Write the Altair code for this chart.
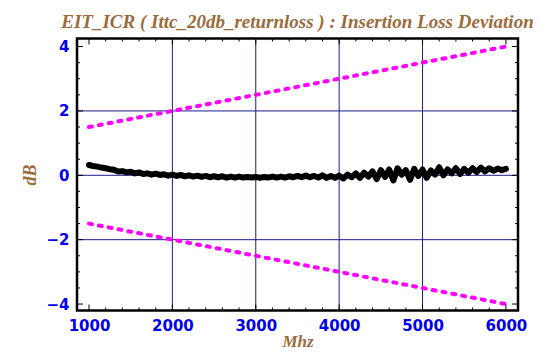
import altair as alt
import pandas as pd

# ---- data ----
freq = list(range(1000, 6001, 50))
deviation = [
    0.32, 0.29, 0.27, 0.24, 0.22, 0.19, 0.17, 0.12, 0.13, 0.09,
    0.11, 0.06, 0.09, 0.04, 0.06, 0.02, 0.05, 0.01, 0.03, -0.01,
    0.02, -0.02, 0.01, -0.03, 0.00, -0.04, -0.01, -0.05, -0.02, -0.06,
    -0.03, -0.06, -0.03, -0.07, -0.04, -0.07, -0.04, -0.07, -0.05, -0.07,
    -0.05, -0.08, -0.05, -0.07, -0.04, -0.07, -0.04, -0.07, -0.03, -0.06,
    -0.02, -0.06, -0.01, -0.06, -0.02, -0.07, 0.00, -0.08, -0.02, -0.08,
    -0.01, -0.10, 0.02, -0.06, 0.06, -0.08, 0.08, -0.04, 0.12, -0.12,
    0.16, -0.05, 0.18, -0.16, 0.22, 0.02, 0.16, -0.14, 0.20, -0.02,
    0.18, -0.08, 0.15, 0.02, 0.25, 0.00, 0.18, 0.06, 0.22, 0.04,
    0.20, 0.08, 0.22, 0.10, 0.24, 0.12, 0.22, 0.14, 0.21, 0.16,
    0.20,
]
limit_freq = [1000, 6000]
upper_limit = [1.5, 4.0]
lower_limit = [-1.5, -4.0]

x_labels = [1000, 2000, 3000, 4000, 5000, 6000]
y_labels = [-4, -2, 0, 2, 4]
x_grid = [2000, 3000, 4000, 5000]
y_grid = [-2, 0, 2]
x_minor = [v for v in range(1000, 6001, 200) if v not in x_labels]
y_minor = [-3.5, -3, -2.5, -1.5, -1, -0.5, 0.5, 1, 1.5, 2.5, 3, 3.5]

TITLE = "EIT_ICR ( Ittc_20db_returnloss ) : Insertion Loss Deviation"

# ---- styling ----
W, H = 441, 272
BROWN = "#9c6b3c"
BLUE = "#0000ee"
GRID = "#1c1c8c"
MAGENTA = "#ff00ff"
SERIF = "Liberation Serif"

xscale = alt.Scale(domain=[856, 6145], nice=False, zero=False)
yscale = alt.Scale(domain=[-4.2, 4.25], nice=False, zero=False)

df_dev = pd.DataFrame({"x": freq, "y": deviation})
df_up = pd.DataFrame({"x": limit_freq, "y": upper_limit})
df_lo = pd.DataFrame({"x": limit_freq, "y": lower_limit})

xaxis = alt.Axis(
    values=x_labels, format="d", grid=False, ticks=False, domain=False,
    labelFont="DejaVu Sans", labelFontWeight="bold", labelFontSize=15,
    labelColor=BLUE, labelPadding=8,
    title="Mhz", titleFont=SERIF, titleFontStyle="italic", titleFontWeight="bold",
    titleFontSize=17, titleColor=BROWN, titleX=W / 2, titleY=31,
    titleAlign="center", titleBaseline="middle",
)
yaxis = alt.Axis(
    values=y_labels, format="d", grid=False, ticks=False, domain=False,
    labelFont="DejaVu Sans", labelFontWeight="bold", labelFontSize=15,
    labelColor=BLUE, labelPadding=8,
    title="dB", titleFont=SERIF, titleFontStyle="italic", titleFontWeight="bold",
    titleFontSize=18, titleColor=BROWN, titleX=-47, titleY=H / 2,
    titleAngle=270, titleAlign="center", titleBaseline="middle",
)

X = lambda: alt.X("x:Q", scale=xscale, axis=xaxis)
Y = lambda: alt.Y("y:Q", scale=yscale, axis=yaxis)

vgrid = alt.Chart(pd.DataFrame({"x": x_grid})).mark_rule(
    color=GRID, strokeWidth=1
).encode(x=X())
hgrid = alt.Chart(pd.DataFrame({"y": y_grid})).mark_rule(
    color=GRID, strokeWidth=1
).encode(y=Y())

dev = alt.Chart(df_dev).mark_line(
    color="black", strokeWidth=6, strokeCap="round", strokeJoin="round"
).encode(x=X(), y=Y())

def dashed(df):
    return alt.Chart(df).mark_line(
        color=MAGENTA, strokeWidth=4, strokeDash=[3, 7], strokeCap="round"
    ).encode(x=X(), y=Y())

def xticks(vals, length):
    d = pd.DataFrame({"x": vals})
    bottom = alt.Chart(d).mark_rule(color="black", strokeWidth=1).encode(
        x=X(), y=alt.value(H), y2=alt.value(H - length))
    top = alt.Chart(d).mark_rule(color="black", strokeWidth=1).encode(
        x=X(), y=alt.value(0), y2=alt.value(length))
    return [bottom, top]

def yticks(vals, length):
    d = pd.DataFrame({"y": vals})
    left = alt.Chart(d).mark_rule(color="black", strokeWidth=1).encode(
        y=Y(), x=alt.value(0), x2=alt.value(length))
    right = alt.Chart(d).mark_rule(color="black", strokeWidth=1).encode(
        y=Y(), x=alt.value(W), x2=alt.value(W - length))
    return [left, right]

layers = [vgrid, hgrid, dashed(df_up), dashed(df_lo), dev]
layers += xticks(x_labels, 6) + xticks(x_minor, 3)
layers += yticks(y_labels, 6) + yticks(y_minor, 3)

chart = alt.layer(*layers).properties(
    width=W, height=H,
    autosize=alt.AutoSizeParams(type="none"),
    padding={"left": 69, "top": 30.5, "right": 20, "bottom": 41.5},
    title=alt.TitleParams(
        TITLE, font=SERIF, fontStyle="italic", fontWeight="bold", fontSize=19,
        color=BROWN, anchor="middle", offset=6,
    ),
).configure(background="white").configure_view(stroke="black", strokeWidth=2.5)

chart.save("out.html", embed_options={"renderer": "svg", "actions": False})
